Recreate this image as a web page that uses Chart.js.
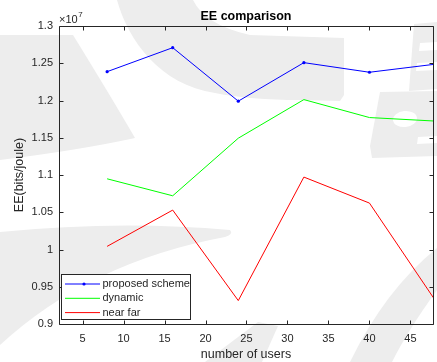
<!DOCTYPE html>
<html>
<head>
<meta charset="utf-8">
<title>EE comparison</title>
<script src="https://cdn.jsdelivr.net/npm/chart.js@4.4.1/dist/chart.umd.min.js"></script>
<style>
    body { margin: 0; background: #fff; }
    canvas { display: block; }
</style>
</head>
<body>
<canvas id="chart" width="437" height="362"></canvas>
<script>
const users = [8, 16, 24, 32, 40, 48];
// EE values in units of 10^7 bits/joule
const proposedScheme = [1.2387, 1.2709, 1.1991, 1.2508, 1.2379, 1.2487];
const dynamic = [1.0949, 1.0721, 1.1494, 1.2012, 1.1771, 1.1724];
const nearFar = [1.0042, 1.0529, 0.9314, 1.0972, 1.0623, 0.9320];
const seriesNames = ['proposed scheme', 'dynamic', 'near far'];
const xTicks = [5, 10, 15, 20, 25, 30, 35, 40, 45];
const yTicks = [0.9, 0.95, 1, 1.05, 1.1, 1.15, 1.2, 1.25, 1.3];
const yExponent = 7;

const FONT = "'Liberation Sans', Arial, sans-serif";
const TEXT = '#262626';
const WATERMARK = '#ededed';

function toPoints(values) {
    return values.map((v, i) => ({ x: users[i], y: v }));
}

function poly(ctx, pts) {
    ctx.beginPath();
    ctx.moveTo(pts[0][0], pts[0][1]);
    pts.slice(1).forEach((p) => ctx.lineTo(p[0], p[1]));
    ctx.closePath();
    ctx.fill();
}

// faint logo shapes behind the figure
function drawWatermark(ctx) {
    ctx.save();
    ctx.fillStyle = WATERMARK;

    ctx.beginPath();
    ctx.moveTo(117, 0);
    ctx.bezierCurveTo(128, 40, 160, 85, 215, 93);
    ctx.quadraticCurveTo(250, 100, 300, 100);
    ctx.lineTo(340, 101);
    ctx.lineTo(344, 95);
    ctx.lineTo(344, 38);
    ctx.lineTo(250, 35);
    ctx.quadraticCurveTo(205, 25, 193, 0);
    ctx.closePath();
    ctx.fill();

    ctx.beginPath();
    ctx.moveTo(0, 35);
    ctx.lineTo(73, 35);
    ctx.quadraticCurveTo(110, 95, 135, 138);
    ctx.quadraticCurveTo(80, 150, 0, 160);
    ctx.closePath();
    ctx.fill();

    ctx.beginPath();
    ctx.moveTo(0, 232);
    ctx.quadraticCurveTo(120, 220, 230, 230);
    ctx.quadraticCurveTo(234, 234, 225, 237);
    ctx.quadraticCurveTo(90, 262, 0, 345);
    ctx.closePath();
    ctx.fill();

    ctx.beginPath();
    ctx.moveTo(350, 362);
    ctx.quadraticCurveTo(385, 290, 437, 248);
    ctx.lineTo(437, 290);
    ctx.quadraticCurveTo(408, 330, 392, 362);
    ctx.closePath();
    ctx.fill();

    poly(ctx, [[205, 362], [258, 322], [278, 326], [262, 362]]);

    // rotated letters on the right
    poly(ctx, [[414, 24], [437, 22], [437, 89], [409, 91]]);
    poly(ctx, [[380, 92], [437, 91], [437, 156], [372, 158], [370, 146]]);
    ctx.fillStyle = '#fff';
    poly(ctx, [[420, 43], [437, 42], [437, 50], [419, 51]]);
    poly(ctx, [[417, 63], [437, 62], [437, 70], [416, 71]]);
    ctx.beginPath();
    ctx.ellipse(405, 119, 12, 8, -0.1, 0, Math.PI * 2);
    ctx.fill();
    poly(ctx, [[418, 137], [437, 136], [437, 143], [417, 144]]);
    ctx.restore();
}

const matlabFrame = {
    id: 'matlabFrame',
    beforeDraw(chart) {
        const { ctx } = chart;
        ctx.save();
        ctx.fillStyle = '#fff';
        ctx.fillRect(0, 0, chart.width, chart.height);
        ctx.restore();
        drawWatermark(ctx);
    },
    afterDraw(chart) {
        const { ctx, chartArea: a } = chart;
        const xs = chart.scales.x;
        const ys = chart.scales.y;
        const left = a.left + 0.5;
        const right = a.right + 0.5;
        const top = a.top + 0.5;
        const bottom = a.bottom + 0.5;
        const tick = 4;

        ctx.save();
        ctx.strokeStyle = TEXT;
        ctx.lineWidth = 1;
        ctx.beginPath();
        ctx.rect(left, top, right - left, bottom - top);
        xTicks.forEach((v) => {
            const px = Math.round(xs.getPixelForValue(v)) + 0.5;
            ctx.moveTo(px, bottom);
            ctx.lineTo(px, bottom - tick);
            ctx.moveTo(px, top);
            ctx.lineTo(px, top + tick);
        });
        yTicks.forEach((v) => {
            const py = Math.round(ys.getPixelForValue(v)) + 0.5;
            ctx.moveTo(left, py);
            ctx.lineTo(left + tick, py);
            ctx.moveTo(right, py);
            ctx.lineTo(right - tick, py);
        });
        ctx.stroke();

        // title and exponent
        ctx.fillStyle = '#000';
        ctx.font = 'bold 12.5px ' + FONT;
        ctx.textAlign = 'center';
        ctx.textBaseline = 'alphabetic';
        ctx.fillText('EE comparison', (a.left + a.right) / 2, 19.5);

        ctx.fillStyle = TEXT;
        ctx.textAlign = 'left';
        ctx.font = '11px ' + FONT;
        ctx.fillText('\u00d710', a.left, 23);
        const w = ctx.measureText('\u00d710').width;
        ctx.font = '8px ' + FONT;
        ctx.fillText(String(yExponent), a.left + w + 0.5, 16.5);

        // legend
        const box = { x: 61.5, y: 274.5, w: 129, h: 45 };
        ctx.fillStyle = '#fff';
        ctx.fillRect(box.x, box.y, box.w, box.h);
        ctx.strokeStyle = TEXT;
        ctx.strokeRect(box.x, box.y, box.w, box.h);
        ctx.font = '11px ' + FONT;
        ctx.textBaseline = 'middle';
        chart.data.datasets.forEach((ds, i) => {
            const y = 284 + i * 14.3;
            ctx.strokeStyle = ds.borderColor;
            ctx.beginPath();
            ctx.moveTo(65, y);
            ctx.lineTo(100, y);
            ctx.stroke();
            if (ds.pointRadius > 0) {
                ctx.fillStyle = ds.borderColor;
                ctx.beginPath();
                ctx.arc(84, y, ds.pointRadius, 0, Math.PI * 2);
                ctx.fill();
            }
            ctx.fillStyle = TEXT;
            ctx.fillText(seriesNames[i], 102.5, y);
        });
        ctx.restore();
    },
};

const ctx = document.getElementById('chart').getContext('2d');
new Chart(ctx, {
    type: 'line',
    data: {
        datasets: [
            {
                label: seriesNames[0],
                data: toPoints(proposedScheme),
                borderColor: '#0000ff',
                backgroundColor: '#0000ff',
                borderWidth: 1,
                pointRadius: 1.6,
                pointBorderWidth: 0,
            },
            {
                label: seriesNames[1],
                data: toPoints(dynamic),
                borderColor: '#00ff00',
                borderWidth: 1,
                pointRadius: 0,
            },
            {
                label: seriesNames[2],
                data: toPoints(nearFar),
                borderColor: '#ff0000',
                borderWidth: 1,
                pointRadius: 0,
            },
        ],
    },
    options: {
        responsive: false,
        animation: false,
        devicePixelRatio: 1,
        layout: { padding: { top: 26, right: 1, left: 0, bottom: 0 } },
        plugins: {
            legend: { display: false },
            title: { display: false },
            tooltip: { enabled: false },
        },
        scales: {
            x: {
                type: 'linear',
                min: 2.13,
                max: 47.75,
                grid: { display: false, drawTicks: false },
                border: { display: false },
                afterBuildTicks: (scale) => {
                    scale.ticks = xTicks.map((v) => ({ value: v }));
                },
                afterFit: (scale) => {
                    scale.height = 38;
                },
                ticks: {
                    padding: 8,
                    color: TEXT,
                    font: { family: FONT, size: 11 },
                    maxRotation: 0,
                },
                title: {
                    display: true,
                    text: 'number of users',
                    color: TEXT,
                    font: { family: FONT, size: 12.5 },
                    padding: { top: 0, bottom: 0 },
                },
            },
            y: {
                type: 'linear',
                min: 0.9,
                max: 1.3,
                grid: { display: false, drawTicks: false },
                border: { display: false },
                afterBuildTicks: (scale) => {
                    scale.ticks = yTicks.map((v) => ({ value: v }));
                },
                afterFit: (scale) => {
                    scale.width = 59;
                },
                ticks: {
                    padding: 6,
                    color: TEXT,
                    font: { family: FONT, size: 11 },
                    callback: (v) => String(Number(v.toFixed(2))),
                },
                title: {
                    display: true,
                    text: 'EE(bits/joule)',
                    color: TEXT,
                    font: { family: FONT, size: 12.5 },
                    padding: { top: 12, bottom: 0 },
                },
            },
        },
    },
    plugins: [matlabFrame],
});
</script>
</body>
</html>
